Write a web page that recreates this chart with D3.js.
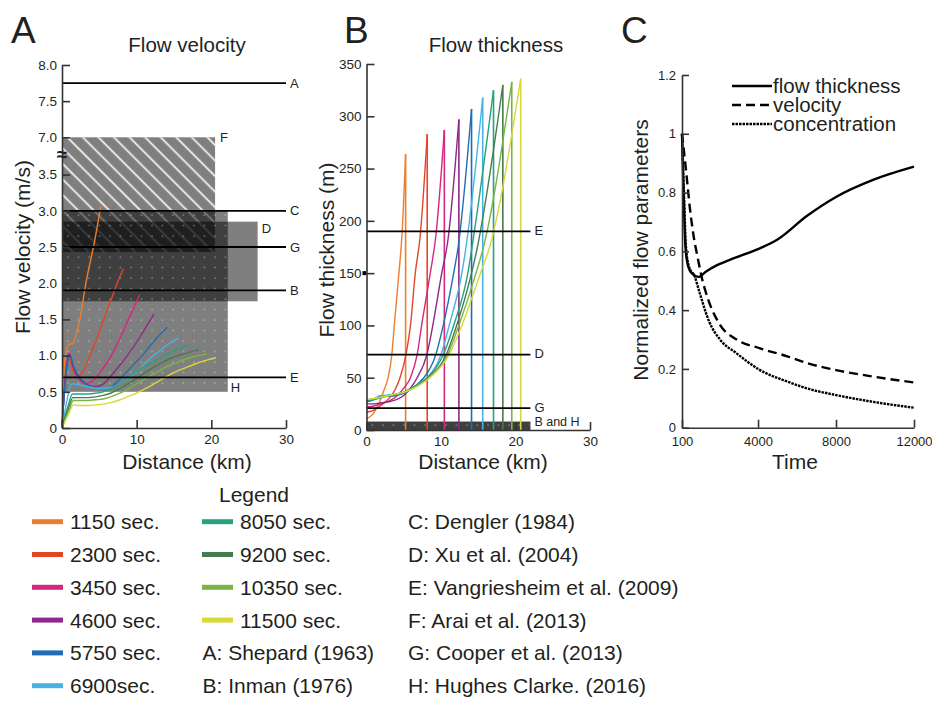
<!DOCTYPE html>
<html>
<head>
<meta charset="utf-8">
<script src="https://cdn.jsdelivr.net/npm/d3@7"></script>
<style>
body { margin: 0; background: #fff; }
svg text { font-family: "Liberation Sans", Arial, sans-serif; fill: #231f20; }
</style>
</head>
<body>
<svg id="fig" width="932" height="701"></svg>
<script>
// ---- data ----
const timeLabels = ["1150 sec.", "2300 sec.", "3450 sec.", "4600 sec.", "5750 sec.",
                    "6900sec.", "8050 sec.", "9200 sec.", "10350 sec.", "11500 sec."];
const seriesColors = ["#ec7f2d", "#e3452b", "#d4287f", "#8d2a87", "#1f6eb2",
                      "#46b4e2", "#25a281", "#467b4d", "#7ab544", "#d9d83a"];

// panel A: [distance km, velocity m/s]
const velocity = [
  [[0,0],[0.3,0.85],[0.6,1.08],[0.9,1.15],[1.5,1.17],[1.9,1.3],[2.4,1.5],[2.8,1.75],[3.2,2.0],[3.8,2.3],[4.4,2.6],[5.2,3.07]],
  [[0,0],[0.5,0.75],[0.9,0.97],[1.4,0.82],[2.1,0.71],[2.8,0.78],[3.8,1.02],[4.7,1.25],[5.6,1.5],[6.5,1.75],[7.4,2.0],[8.2,2.2]],
  [[0,0],[0.6,0.85],[1.0,1.03],[1.5,0.84],[2.3,0.68],[3.2,0.61],[4.2,0.66],[5.2,0.78],[6.6,1.0],[7.8,1.25],[8.9,1.5],[9.7,1.68],[10.4,1.84]],
  [[0,0],[0.6,0.85],[1.0,1.02],[1.5,0.85],[2.4,0.68],[3.4,0.6],[4.4,0.57],[5.4,0.6],[6.4,0.7],[7.6,0.85],[8.9,1.02],[10.4,1.25],[11.4,1.42],[12.3,1.57]],
  [[0,0],[0.6,0.8],[1.1,0.99],[1.6,0.84],[2.6,0.67],[3.6,0.58],[4.6,0.55],[5.6,0.54],[6.6,0.57],[7.6,0.66],[8.6,0.77],[9.8,0.9],[10.9,1.02],[12.0,1.16],[13.1,1.29],[14.1,1.39]],
  [[0,0],[0.7,0.4],[1.2,0.6],[1.5,0.61],[2.5,0.59],[3.5,0.57],[4.5,0.55],[5.5,0.545],[6.5,0.56],[7.5,0.6],[8.3,0.65],[9.1,0.7],[10,0.78],[11,0.88],[12,0.98],[13,1.06],[14,1.14],[15.6,1.24]],
  [[0,0],[0.8,0.3],[1.4,0.47],[2.5,0.47],[3.5,0.47],[4.5,0.48],[5.5,0.5],[6.5,0.54],[7.5,0.6],[8.5,0.67],[9.5,0.75],[10.5,0.82],[11.5,0.88],[12.5,0.93],[13.5,0.99],[14.5,1.04],[15.5,1.09],[16.9,1.14]],
  [[0,0],[0.9,0.28],[1.45,0.42],[2.5,0.42],[3.5,0.42],[4.5,0.43],[5.5,0.45],[6.5,0.48],[7.5,0.53],[8.5,0.59],[9.5,0.65],[10.5,0.72],[11.5,0.79],[12.5,0.85],[13.5,0.91],[14.5,0.96],[15.5,1.0],[16.5,1.03],[18.3,1.08]],
  [[0,0],[1.0,0.26],[1.5,0.38],[2.5,0.38],[3.5,0.38],[4.5,0.39],[5.5,0.4],[6.5,0.43],[7.5,0.47],[8.5,0.52],[9.5,0.58],[10.5,0.64],[11.5,0.7],[12.5,0.76],[13.5,0.82],[14.5,0.87],[15.5,0.91],[16.5,0.95],[17.5,0.98],[19.4,1.02]],
  [[0,0],[1.0,0.22],[1.5,0.32],[2.5,0.31],[3.5,0.31],[4.5,0.32],[5.5,0.33],[6.5,0.35],[7.5,0.38],[8.5,0.42],[9.5,0.46],[10.5,0.51],[11.5,0.56],[12.5,0.62],[13.5,0.68],[14.5,0.74],[15.5,0.79],[16.5,0.83],[17.5,0.87],[18.5,0.91],[19.5,0.94],[20.6,0.97]]
];

// panel B: [distance km, thickness m]; last point is the flow front
const thickness = [
  [[0,11],[0.7,14],[1.2,19],[1.7,26],[2.3,37],[2.9,50],[3.4,72],[3.73,100],[4.35,150],[4.75,185],[5.25,264]],
  [[0,17],[1,19],[2,24],[3,30],[3.8,38],[4.5,50],[5.3,72],[5.9,100],[6.55,150],[7.2,185],[8.15,283]],
  [[0,22],[1,23],[2,25],[3,27.5],[4,32],[5,40],[5.9,50],[6.8,72],[7.4,100],[8.56,150],[9.3,185],[10.45,287]],
  [[0,25],[1,25],[2,26],[3,27],[4,29],[5,33],[6,41],[6.8,50],[8.1,72],[8.9,100],[10.1,150],[10.9,180],[12.4,297]],
  [[0,27],[1,29],[1.8,32.5],[3,32.5],[4,33],[5,35],[6,39],[7,45],[7.7,50],[9.3,72],[10.3,100],[11.7,150],[12.3,175],[14.1,307]],
  [[0,28],[1,30],[2,33],[3,33.5],[4,34],[5,36],[6,40],[7,44.5],[8.1,50],[10.0,72],[11.1,100],[12.8,150],[13.3,172],[15.6,318]],
  [[0,28],[1,29],[2,31],[3,33],[4,34],[5,36],[6,40],[7,44],[8.2,50],[10.3,72],[11.7,100],[13.6,150],[14.1,172],[17.05,325]],
  [[0,28.5],[1,29.5],[2,31],[3,33],[4,34],[5,36],[6,39.5],[7,43.5],[8.3,50],[10.7,72],[12.1,100],[14.1,150],[14.8,172],[18.3,330]],
  [[0,29],[1,30],[2,31.5],[3,33],[4,34.5],[5,36],[6,39],[7,43],[8.4,50],[10.9,72],[12.4,100],[14.7,150],[15.6,172],[19.5,333]],
  [[0,29],[1,30],[2,31.5],[3,33],[4,34.5],[5,36],[6,39],[7,42.5],[8.5,50],[11.1,72],[12.8,100],[15.3,150],[16.4,172],[20.7,336]]
];

// reference values
const velRefNames = ["A", "C", "G", "B", "E"];
const velRefValues = [7.75, 3.0, 2.5, 1.9, 0.7];
const velBoxNames = ["F", "D", "H"];
const velBoxRight = [20.5, 26.2, 22.2];      // km
const velBoxLow = [2.43, 1.75, 0.5];
const velBoxHigh = [7.0, 2.85, 3.0];
const velTicks = [0, 0.5, 1, 1.5, 2, 2.5, 3, 3.5, 7, 7.5, 8];

const thkRefNames = ["E", "D", "G"];
const thkRefValues = [190, 72, 21];
const thkBand = [0, 8];                      // B and H, m
const thkRefEnd = 22;                        // km

// panel C: [time, normalized value]
const normThickness = [[100,1.0],[180,0.8],[250,0.65],[350,0.57],[500,0.535],[700,0.52],[950,0.513],[1300,0.53],[1900,0.553],[2700,0.575],[3900,0.605],[5000,0.64],[6500,0.72],[8000,0.785],[9900,0.843],[12000,0.888]];
const normVelocity = [[100,1.0],[300,0.88],[500,0.75],[700,0.65],[900,0.58],[1100,0.515],[1450,0.435],[2050,0.35],[2900,0.3],[4100,0.27],[5500,0.243],[6500,0.22],[8000,0.196],[9900,0.174],[12000,0.154]];
const normConcentration = [[100,1.0],[200,0.8],[300,0.62],[450,0.55],[750,0.515],[1000,0.46],[1500,0.36],[2050,0.3],[2900,0.253],[4100,0.196],[5500,0.157],[6500,0.134],[8000,0.111],[9900,0.088],[12000,0.068]];
const normNames = ["flow thickness", "velocity", "concentration"];
const normDash = [null, "9,5", "2.5,1"];
const timeTicks = [100, 4000, 8000, 12000];

const refSources = ["A: Shepard (1963)", "B: Inman (1976)", "C: Dengler (1984)", "D: Xu et al. (2004)",
                    "E: Vangriesheim et al. (2009)", "F: Arai et al. (2013)", "G: Cooper et al. (2013)",
                    "H: Hughes Clarke. (2016)"];

// ---- drawing ----
var svg = d3.select("#fig");
var defs = svg.append("defs");

defs.append("pattern").attr("id", "hatch")
    .attr("width", 11).attr("height", 11)
    .attr("patternUnits", "userSpaceOnUse")
    .attr("patternTransform", "rotate(45)")
  .append("line")
    .attr("x1", 0).attr("y1", 5.5).attr("x2", 11).attr("y2", 5.5)
    .attr("stroke", "#fff").attr("stroke-width", 1.6);

defs.append("pattern").attr("id", "dots")
    .attr("width", 10.5).attr("height", 10.5)
    .attr("patternUnits", "userSpaceOnUse")
  .append("circle")
    .attr("cx", 5).attr("cy", 5).attr("r", 0.8)
    .attr("fill", "#fff").attr("fill-opacity", 0.45);

function styleAxis(g, size) {
    g.attr("font-family", null).attr("font-size", size);
    g.select(".domain").attr("stroke", "#333").attr("stroke-width", 1.6);
    g.selectAll(".tick line").attr("stroke", "#333").attr("stroke-width", 1.6);
    g.selectAll(".tick text").attr("fill", "#231f20");
}

function label(x, y, txt, size, anchor, rot) {
    var t = svg.append("text").attr("font-size", size)
        .attr("text-anchor", anchor || "start").text(txt);
    if (rot) t.attr("transform", "translate(" + x + "," + y + ") rotate(" + rot + ")");
    else t.attr("x", x).attr("y", y);
    return t;
}

// panel A ------------------------------------------------------------
function makeVelocity() {
    var xA = d3.scaleLinear().domain([0, 30]).range([62, 286]);
    var yA = d3.scaleLinear().domain([0, 3.5, 7, 8]).range([428, 174.6, 137.3, 65]);
    var g = svg.append("g");

    velBoxNames.forEach((n, i) => {
        g.append("rect")
            .attr("x", xA(0)).attr("y", yA(velBoxHigh[i]))
            .attr("width", xA(velBoxRight[i]) - xA(0))
            .attr("height", yA(velBoxLow[i]) - yA(velBoxHigh[i]))
            .attr("fill", "#000").attr("fill-opacity", 0.5);
        if (n == "F")
            g.append("rect")
                .attr("x", xA(0)).attr("y", yA(velBoxHigh[i]))
                .attr("width", xA(velBoxRight[i]) - xA(0))
                .attr("height", yA(velBoxLow[i]) - yA(velBoxHigh[i]))
                .attr("fill", "url(#hatch)");
        if (n == "H")
            g.append("rect")
                .attr("x", xA(0)).attr("y", yA(velBoxHigh[i]))
                .attr("width", xA(velBoxRight[i]) - xA(0))
                .attr("height", yA(velBoxLow[i]) - yA(velBoxHigh[i]))
                .attr("fill", "url(#dots)");
    });
    // box labels
    label(xA(velBoxRight[0]) + 5, yA(velBoxHigh[0]) + 5, "F", 13);
    label(xA(velBoxRight[1]) + 4, yA(velBoxHigh[1]) + 11, "D", 13);
    label(xA(velBoxRight[2]) + 3, yA(velBoxLow[2]) - 0, "H", 13);

    var line = d3.line().x(d => xA(d[0])).y(d => yA(d[1])).curve(d3.curveMonotoneX);
    g.selectAll(".vel").data(velocity).enter().append("path")
        .attr("d", line).attr("fill", "none")
        .attr("stroke", (d, i) => seriesColors[i]).attr("stroke-width", 1.4);

    velRefValues.forEach((v, i) => {
        g.append("line").attr("x1", xA(0)).attr("x2", xA(30))
            .attr("y1", yA(v)).attr("y2", yA(v))
            .attr("stroke", "#000").attr("stroke-width", 1.8);
        label(xA(30) + 4, yA(v) + 4.5, velRefNames[i], 13);
    });

    svg.append("g").attr("transform", "translate(0,428)")
        .call(d3.axisBottom(xA).tickValues([0, 10, 20, 30]).tickSizeInner(-8).tickSizeOuter(0).tickPadding(6))
        .call(styleAxis, 13.5);
    svg.append("g").attr("transform", "translate(62,0)")
        .call(d3.axisLeft(yA).tickValues(velTicks).tickSizeInner(-8).tickSizeOuter(0).tickPadding(5)
              .tickFormat(d => d == 0 ? "0" : d.toFixed(1)))
        .call(styleAxis, 13.5);
    label(62, 161, "≈", 19, "middle").attr("font-weight", "bold");

    label(187, 52, "Flow velocity", 20.5, "middle");
    label(187, 469, "Distance (km)", 21, "middle");
    label(30, 247, "Flow velocity (m/s)", 21, "middle", -90);
    label(11, 43, "A", 37);
}

// panel B ------------------------------------------------------------
function makeThickness() {
    var xB = d3.scaleLinear().domain([0, 30]).range([366.5, 590]);
    var yB = d3.scaleLinear().domain([0, 350]).range([430, 64]);
    var g = svg.append("g");

    // B and H band, two overlapping ranges
    [0, 1].forEach(() => {
        g.append("rect").attr("x", xB(0)).attr("y", yB(thkBand[1]))
            .attr("width", xB(thkRefEnd) - xB(0)).attr("height", yB(thkBand[0]) - yB(thkBand[1]))
            .attr("fill", "#000").attr("fill-opacity", 0.5);
    });
    g.append("rect").attr("x", xB(0)).attr("y", yB(thkBand[1]))
        .attr("width", xB(thkRefEnd) - xB(0)).attr("height", yB(thkBand[0]) - yB(thkBand[1]))
        .attr("fill", "url(#dots)");

    var line = d3.line().x(d => xB(d[0])).y(d => yB(d[1])).curve(d3.curveMonotoneX);
    thickness.forEach((s, i) => {
        var front = s[s.length - 1];
        g.append("path").attr("d", line(s)).attr("fill", "none")
            .attr("stroke", seriesColors[i]).attr("stroke-width", 1.4);
        g.append("line").attr("x1", xB(front[0])).attr("x2", xB(front[0]))
            .attr("y1", yB(front[1])).attr("y2", yB(0))
            .attr("stroke", seriesColors[i]).attr("stroke-width", 1.6);
    });

    thkRefValues.forEach((v, i) => {
        g.append("line").attr("x1", xB(0)).attr("x2", xB(thkRefEnd))
            .attr("y1", yB(v)).attr("y2", yB(v))
            .attr("stroke", "#000").attr("stroke-width", 1.8);
        label(xB(thkRefEnd) + 4, yB(v) + 3.5, thkRefNames[i], 13);
    });
    label(xB(thkRefEnd) + 4, yB(thkBand[1]) + 4.8, "B and H", 12.5);

    svg.append("g").attr("transform", "translate(0,430)")
        .call(d3.axisBottom(xB).tickValues([0, 10, 20, 30]).tickSizeInner(-8).tickSizeOuter(0).tickPadding(6))
        .call(styleAxis, 13.5);
    svg.append("g").attr("transform", "translate(366.5,0)")
        .call(d3.axisLeft(yB).tickValues(d3.range(0, 351, 50)).tickSizeInner(-8).tickSizeOuter(0).tickPadding(5))
        .call(styleAxis, 13.5);
    svg.append("rect").attr("x", 362.5).attr("y", yB(150) - 2).attr("width", 3.5).attr("height", 4).attr("fill", "#000");

    label(496, 52, "Flow thickness", 20.5, "middle");
    label(483, 469, "Distance (km)", 21, "middle");
    label(334, 250, "Flow thickness (m)", 21, "middle", -90);
    label(344, 43, "B", 37);
}

// panel C ------------------------------------------------------------
function makeNormalized() {
    var xC = d3.scaleLinear().domain([100, 12000]).range([682, 914]);
    var yC = d3.scaleLinear().domain([0, 1.2]).range([427.7, 75]);
    var g = svg.append("g");

    var line = d3.line().x(d => xC(d[0])).y(d => yC(d[1])).curve(d3.curveMonotoneX);
    [normThickness, normVelocity, normConcentration].forEach((s, i) => {
        g.append("path").attr("d", line(s)).attr("fill", "none")
            .attr("stroke", "#000").attr("stroke-width", 2.4)
            .attr("stroke-dasharray", normDash[i]);
        var ly = 86 + i * 19;
        g.append("line").attr("x1", 732).attr("x2", 772).attr("y1", ly).attr("y2", ly)
            .attr("stroke", "#000").attr("stroke-width", 2.4)
            .attr("stroke-dasharray", normDash[i]);
        label(773, ly + 7, normNames[i], 20.5);
    });

    svg.append("g").attr("transform", "translate(0,427.7)")
        .call(d3.axisBottom(xC).tickValues(timeTicks).tickSizeInner(-8).tickSizeOuter(0).tickPadding(9)
              .tickFormat(d3.format("d")))
        .call(styleAxis, 13);
    svg.append("g").attr("transform", "translate(682,0)")
        .call(d3.axisLeft(yC).tickValues(d3.range(0, 1.21, 0.2)).tickSizeInner(-7).tickSizeOuter(0).tickPadding(6)
              .tickFormat(d3.format("~g")))
        .call(styleAxis, 13);

    label(795, 469, "Time", 21, "middle");
    label(648, 250, "Normalized flow parameters", 21, "middle", -90);
    label(621, 43, "C", 37);
}

// legend --------------------------------------------------------------
function makeLegend() {
    var rowY = r => 521.7 + r * 32.8;
    label(254, 502, "Legend", 21, "middle");
    timeLabels.forEach((t, i) => {
        var col = i < 6 ? 0 : 1, row = i < 6 ? i : i - 6;
        var x0 = col ? 202 : 32;
        svg.append("line").attr("x1", x0).attr("x2", x0 + 31)
            .attr("y1", rowY(row)).attr("y2", rowY(row))
            .attr("stroke", seriesColors[i]).attr("stroke-width", 5);
        label(x0 + 38, rowY(row) + 7.5, t, 21);
    });
    refSources.forEach((t, i) => {
        if (i < 2) label(202.5, rowY(4 + i) + 7.5, t, 21);
        else label(408, rowY(i - 2) + 7.5, t, 21);
    });
}

makeVelocity();
makeThickness();
makeNormalized();
makeLegend();
</script>
</body>
</html>
